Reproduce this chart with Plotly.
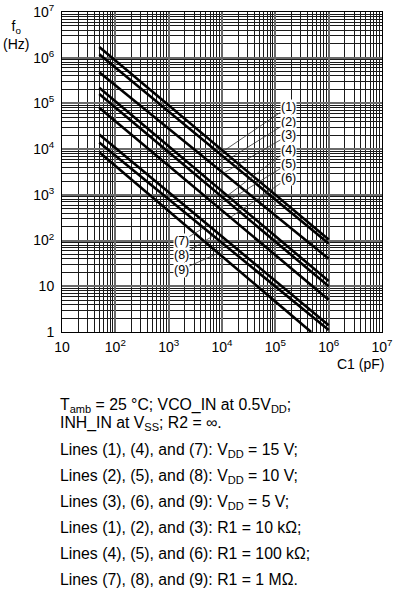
import numpy as np
import plotly.graph_objects as go

# ---- data ----
line_names = ["(1)", "(2)", "(3)", "(4)", "(5)", "(6)", "(7)", "(8)", "(9)"]
c_start = [50, 50, 50, 50, 50, 50, 50, 50, 50]                 # pF
c_end = [1e6, 1e6, 1e6, 1e6, 1e6, 1e6, 1e6, 1e6, 4.7e5]         # pF
f_start = [1.71e6, 1.19e6, 4.8e5, 2.2e5, 1.6e5, 8.0e4, 2.1e4, 1.4e4, 8.6e3]  # Hz
f_end = [105, 86, 40, 13, 10, 5.1, 1.4, 1.1, 1.0]              # Hz

x_major = [10, 1e2, 1e3, 1e4, 1e5, 1e6, 1e7]
x_labels = ["10", "10<sup>2</sup>", "10<sup>3</sup>", "10<sup>4</sup>",
            "10<sup>5</sup>", "10<sup>6</sup>", "10<sup>7</sup>"]
y_major = [1, 10, 1e2, 1e3, 1e4, 1e5, 1e6, 1e7]
y_labels = ["1", "10", "10<sup>2</sup>", "10<sup>3</sup>", "10<sup>4</sup>",
            "10<sup>5</sup>", "10<sup>6</sup>", "10<sup>7</sup>"]

# label positions (log10 C, log10 f) for the text, and C where the leader touches the line
label_text_logc = [5.243, 5.243, 5.243, 5.243, 5.243, 5.243, 3.237, 3.237, 3.237]
label_text_logf = [4.922, 4.594, 4.303, 3.99, 3.683, 3.368, 1.984, 1.677, 1.364]
leader_logc = [4.025, 4.10, 4.025, 4.10, 4.10, 4.156, 3.743, 3.837, 3.93]

notes = [
    "T<sub>amb</sub> = 25 °C; VCO_IN at 0.5V<sub>DD</sub>;",
    "INH_IN at V<sub>SS</sub>; R2 = ∞.",
    "Lines (1), (4), and (7): V<sub>DD</sub> = 15 V;",
    "Lines (2), (5), and (8): V<sub>DD</sub> = 10 V;",
    "Lines (3), (6), and (9): V<sub>DD</sub> = 5 V;",
    "Lines (1), (2), and (3): R1 = 10 kΩ;",
    "Lines (4), (5), and (6): R1 = 100 kΩ;",
    "Lines (7), (8), and (9): R1 = 1 MΩ.",
]
note_y_px = [405, 423, 450, 476, 502, 527, 553, 579]

# ---- layout geometry (page pixels) ----
W, H = 397, 592
L, R, T, B = 62, 382, 12, 332
FONT = "Liberation Sans, Arial, sans-serif"

fig = go.Figure()
for i in range(len(line_names)):
    fig.add_trace(go.Scatter(
        x=[c_start[i], c_end[i]], y=[f_start[i], f_end[i]],
        mode="lines", line=dict(color="black", width=2.6),
        showlegend=False, hoverinfo="skip", cliponaxis=True))

minor_x = [m * 10 ** k for k in range(1, 7) for m in range(2, 10)]
minor_y = [m * 10 ** k for k in range(0, 7) for m in range(2, 10)]

fig.update_xaxes(type="log", range=[1, 7], tickvals=x_major, ticktext=x_labels,
                 automargin=False,
                 showgrid=True, gridcolor="#6a6a6a", gridwidth=2,
                 minor=dict(tickvals=minor_x, showgrid=True, gridcolor="#1a1a1a", gridwidth=1),
                 showline=True, linecolor="black", linewidth=1, mirror=True,
                 ticks="", zeroline=False, ticklabelstandoff=2,
                 tickfont=dict(family=FONT, size=14, color="black"))
fig.update_yaxes(type="log", range=[0, 7], tickvals=y_major, ticktext=y_labels,
                 automargin=False,
                 showgrid=True, gridcolor="#6a6a6a", gridwidth=2,
                 minor=dict(tickvals=minor_y, showgrid=True, gridcolor="#1a1a1a", gridwidth=1),
                 showline=True, linecolor="black", linewidth=1, mirror=True,
                 ticks="", zeroline=False, ticklabelstandoff=4,
                 tickfont=dict(family=FONT, size=14, color="black"))

annotations = []
# line labels with leaders
for i, name in enumerate(line_names):
    lc0, lc1 = np.log10(c_start[i]), np.log10(c_end[i])
    lf0, lf1 = np.log10(f_start[i]), np.log10(f_end[i])
    hx = leader_logc[i]
    hy = lf0 + (lf1 - lf0) * (hx - lc0) / (lc1 - lc0)
    annotations.append(dict(
        x=hx, y=hy, xref="x", yref="y",
        ax=label_text_logc[i], ay=label_text_logf[i], axref="x", ayref="y",
        text=name, showarrow=True, arrowhead=0, arrowwidth=0.8, arrowcolor="#333",
        standoff=0, startstandoff=0,
        font=dict(family=FONT, size=12.5, color="black"), bgcolor="white", borderpad=0))

pw, ph = R - L, B - T
def px(xp):
    return (xp - L) / pw
def py(yp):
    return (B - yp) / ph

# axis titles
annotations.append(dict(x=px(16), y=py(35), xref="paper", yref="paper",
                        text="f<sub>o</sub><br>(Hz)", showarrow=False, align="center",
                        xanchor="center", yanchor="middle",
                        font=dict(family=FONT, size=14, color="black")))
annotations.append(dict(x=px(360), y=py(364), xref="paper", yref="paper",
                        text="C1 (pF)", showarrow=False, xanchor="center", yanchor="middle",
                        font=dict(family=FONT, size=14, color="black")))
for txt, yp in zip(notes, note_y_px):
    annotations.append(dict(x=px(58), y=py(yp), xref="paper", yref="paper",
                            text=txt, showarrow=False, xanchor="left", yanchor="middle",
                            font=dict(family=FONT, size=15.8, color="black")))

fig.update_layout(width=W, height=H,
                  margin=dict(l=L, r=W - R, t=T, b=H - B, pad=0, autoexpand=False),
                  plot_bgcolor="white", paper_bgcolor="white",
                  annotations=annotations, showlegend=False)

fig.write_html("out.html", config={"displayModeBar": False},
               post_script="document.body.style.margin='0';document.body.style.overflow='hidden';")
